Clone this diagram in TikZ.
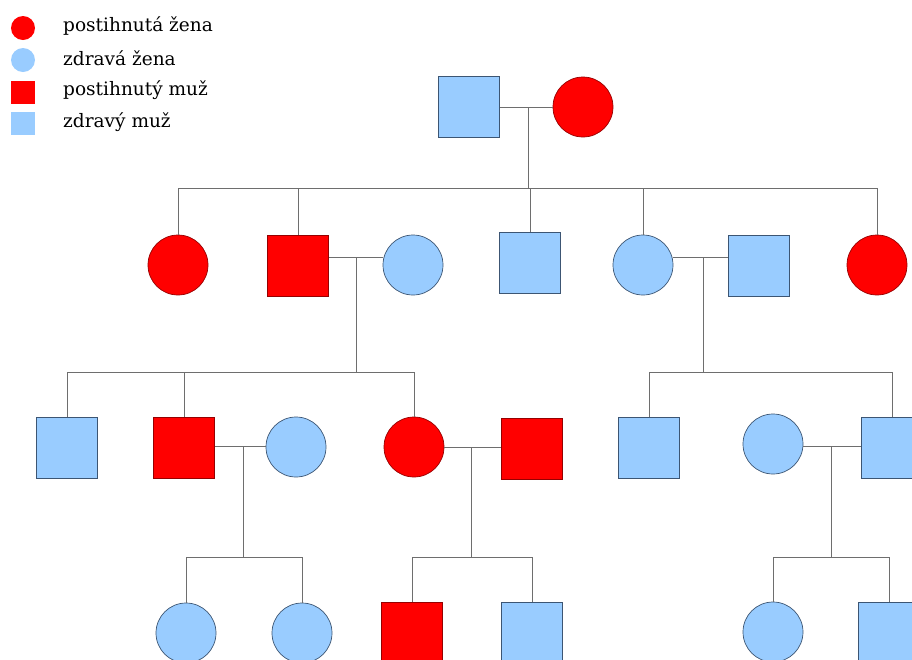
\documentclass[tikz,border=0pt]{standalone}
\usepackage{fontspec}
\setmainfont{DejaVu Serif}
\usepackage{tikz}
\usetikzlibrary{calc}
\definecolor{cervena}{RGB}{255,0,0}
\definecolor{cervenaokraj}{RGB}{150,0,0}
\definecolor{modra}{RGB}{153,204,255}
\definecolor{modraokraj}{RGB}{60,85,115}
\definecolor{cara}{RGB}{110,110,110}
\tikzset{
  muzzdrav/.style={rectangle,draw=modraokraj,fill=modra,line width=0.6pt,inner sep=0pt,minimum size=1.83cm},
  muzpost/.style={rectangle,draw=cervenaokraj,fill=cervena,line width=0.6pt,inner sep=0pt,minimum size=1.83cm},
  zenazdrav/.style={circle,draw=modraokraj,fill=modra,line width=0.6pt,inner sep=0pt,minimum size=1.8cm},
  zenapost/.style={circle,draw=cervenaokraj,fill=cervena,line width=0.6pt,inner sep=0pt,minimum size=1.8cm},
  vazba/.style={draw=cara,line width=0.8pt},
  popis/.style={anchor=west,inner sep=0pt,font=\fontsize{15.8}{18}\selectfont}
}

\begin{document}
\begin{tikzpicture}[x=0.03cm,y=-0.03cm]
    \useasboundingbox (0,0) rectangle (912,659);
    \clip (0,0) rectangle (912,659);
    %% legenda
    \node (lg1) at (23,28) [circle,fill=cervena,inner sep=0pt,minimum size=0.72cm]{};
    \node (lg2) at (23,60) [circle,fill=modra,inner sep=0pt,minimum size=0.72cm]{};
    \node (lg3) at (23,92) [rectangle,fill=cervena,inner sep=0pt,minimum size=0.69cm]{};
    \node (lg4) at (23,123) [rectangle,fill=modra,inner sep=0pt,minimum size=0.69cm]{};
    \node (tx1) at (63,26) [popis]{postihnutá žena};
    \node (tx2) at (63,58) [popis]{zdravá žena};
    \node (tx3) at (63,90) [popis]{postihnutý muž};
    \node (tx4) at (63,122) [popis]{zdravý muž};

    %% 1. generace
    \node (I1) at (469,107) [muzzdrav]{};
    \node (I2) at (583,107) [zenapost]{};
    \coordinate (m1) at (528,107);
    \coordinate (s1) at (528,188);

    %% 2. generace
    \node (II1) at (178,265) [zenapost]{};
    \node (II2) at (298,266) [muzpost]{};
    \node (II3) at (413,265) [zenazdrav]{};
    \node (II4) at (530,263) [muzzdrav]{};
    \node (II5) at (643,265) [zenazdrav]{};
    \node (II6) at (759,266) [muzzdrav]{};
    \node (II7) at (877,265) [zenapost]{};
    \coordinate (m2) at (356,257);
    \coordinate (s2) at (356,372);
    \coordinate (m3) at (703,257);
    \coordinate (s3) at (703,372);

    %% 3. generace
    \node (III1) at (67,448) [muzzdrav]{};
    \node (III2) at (184,448) [muzpost]{};
    \node (III3) at (296,447) [zenazdrav]{};
    \node (III4) at (414,447) [zenapost]{};
    \node (III5) at (532,449) [muzpost]{};
    \node (III6) at (649,448) [muzzdrav]{};
    \node (III7) at (773,444) [zenazdrav]{};
    \node (III8) at (892,448) [muzzdrav]{};
    \coordinate (m4) at (243,446);
    \coordinate (s4) at (243,557);
    \coordinate (m5) at (471,447);
    \coordinate (s5) at (471,557);
    \coordinate (m6) at (831,446);
    \coordinate (s6) at (831,557);

    %% 4. generace
    \node (IV1) at (186,633) [zenazdrav]{};
    \node (IV2) at (302,633) [zenazdrav]{};
    \node (IV3) at (412,633) [muzpost]{};
    \node (IV4) at (532,633) [muzzdrav]{};
    \node (IV5) at (773,632) [zenazdrav]{};
    \node (IV6) at (889,633) [muzzdrav]{};

    %% manzelstvi
    \draw[vazba] (I1.east |- m1) -- (I2.west |- m1);
    \draw[vazba] (II2.east |- m2) -- (II3.west |- m2);
    \draw[vazba] (II5.east |- m3) -- (II6.west |- m3);
    \draw[vazba] (III2.east |- m4) -- (III3.west |- m4);
    \draw[vazba] (III4.east |- m5) -- (III5.west |- m5);
    \draw[vazba] (III7.east |- m6) -- (III8.west |- m6);

    %% potomci
    \draw[vazba] (m1) -- (s1);
    \draw[vazba] (II1.north |- s1) -- (II7.north |- s1);
    \foreach \d in {II1,II2,II4,II5,II7}
      \draw[vazba] (\d.north) -- (\d.north |- s1);
    \draw[vazba] (m2) -- (s2);
    \draw[vazba] (III1.north |- s2) -- (III4.north |- s2);
    \foreach \d in {III1,III2,III4}
      \draw[vazba] (\d.north) -- (\d.north |- s2);
    \draw[vazba] (m3) -- (s3);
    \draw[vazba] (III6.north |- s3) -- (III8.north |- s3);
    \foreach \d in {III6,III8}
      \draw[vazba] (\d.north) -- (\d.north |- s3);
    \draw[vazba] (m4) -- (s4);
    \draw[vazba] (IV1.north |- s4) -- (IV2.north |- s4);
    \foreach \d in {IV1,IV2}
      \draw[vazba] (\d.north) -- (\d.north |- s4);
    \draw[vazba] (m5) -- (s5);
    \draw[vazba] (IV3.north |- s5) -- (IV4.north |- s5);
    \foreach \d in {IV3,IV4}
      \draw[vazba] (\d.north) -- (\d.north |- s5);
    \draw[vazba] (m6) -- (s6);
    \draw[vazba] (IV5.north |- s6) -- (IV6.north |- s6);
    \foreach \d in {IV5,IV6}
      \draw[vazba] (\d.north) -- (\d.north |- s6);
  \end{tikzpicture}
\end{document}
